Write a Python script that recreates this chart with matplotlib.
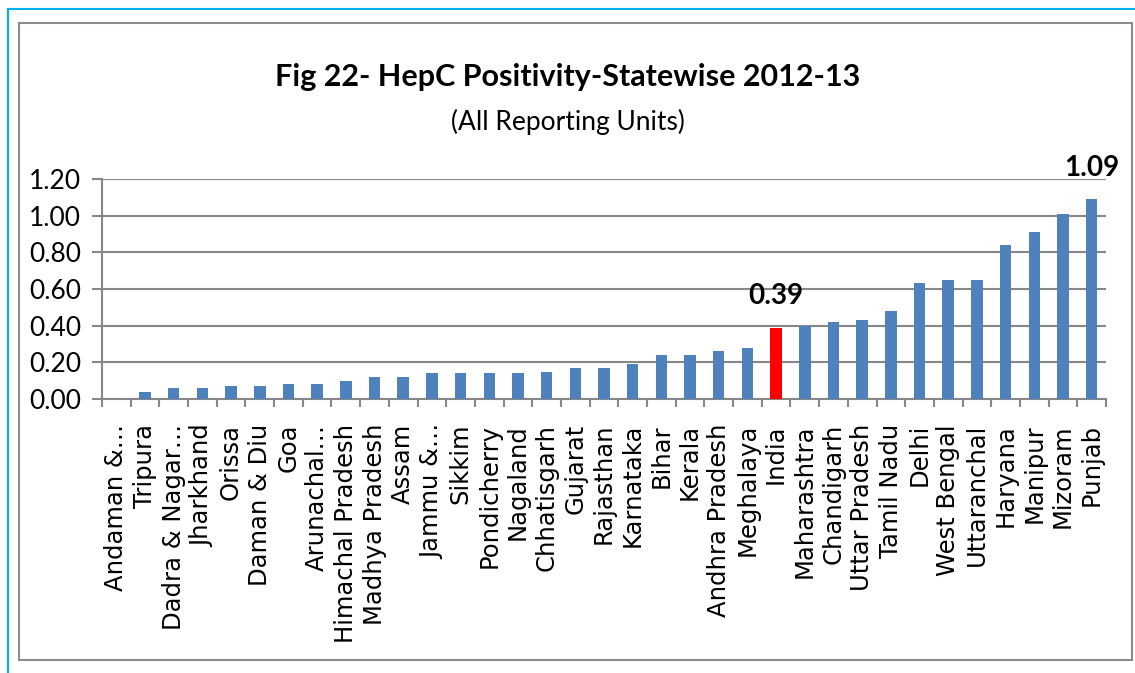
import matplotlib.pyplot as plt
from matplotlib.lines import Line2D
from matplotlib.patches import Rectangle

states = [
    'Andaman &…', 'Tripura', 'Dadra & Nagar…', 'Jharkhand', 'Orissa',
    'Daman & Diu', 'Goa', 'Arunachal…', 'Himachal Pradesh', 'Madhya Pradesh',
    'Assam', 'Jammu &…', 'Sikkim', 'Pondicherry', 'Nagaland',
    'Chhatisgarh', 'Gujarat', 'Rajasthan', 'Karnataka', 'Bihar',
    'Kerala', 'Andhra Pradesh', 'Meghalaya', 'India', 'Maharashtra',
    'Chandigarh', 'Uttar Pradesh', 'Tamil Nadu', 'Delhi', 'West Bengal',
    'Uttaranchal', 'Haryana', 'Manipur', 'Mizoram', 'Punjab'
]

positivity = [
    0.00, 0.04, 0.06, 0.06, 0.07,
    0.07, 0.08, 0.08, 0.10, 0.12,
    0.12, 0.14, 0.14, 0.14, 0.14,
    0.15, 0.17, 0.17, 0.19, 0.24,
    0.24, 0.26, 0.28, 0.39, 0.40,
    0.42, 0.43, 0.48, 0.63, 0.65,
    0.65, 0.84, 0.91, 1.01, 1.09
]

yticks = [0.0, 0.2, 0.4, 0.6, 0.8, 1.0, 1.2]
labelled = {'India': '0.39', 'Punjab': '1.09'}

narrow = ['Lato', 'DejaVu Sans']
W, H = 1135, 673

fig = plt.figure(figsize=(W / 100, H / 100), dpi=100)

# outer cyan edge and grey chart frame
fig.add_artist(Line2D([8 / W, 8 / W], [0, 1 - 9 / H], color='#00B0F0', lw=1.5))
fig.add_artist(Line2D([8 / W, 1], [1 - 9 / H, 1 - 9 / H], color='#00B0F0', lw=1.5))
fig.add_artist(Rectangle((19 / W, 1 - 660 / H), (1132 - 19) / W, (660 - 23) / H,
                         fill=False, edgecolor='#8C8C8C', lw=1.5))

ax = fig.add_axes([102 / W, 1 - 399 / H, (1106 - 102) / W, 220 / H])

colors = ['#FF0000' if s == 'India' else '#4F81BD' for s in states]
x = range(len(states))
ax.bar(x, positivity, width=0.4, color=colors, zorder=3)

ax.set_xlim(-0.5, len(states) - 0.5)
ax.set_ylim(0, 1.2)
ax.set_yticks(yticks)
ax.set_yticklabels(['%.2f' % t for t in yticks], family=narrow, fontsize=19)
ax.yaxis.grid(True, color='#878787', lw=1.5, zorder=0)

ax.set_xticks(list(x))
ax.set_xticklabels(states, rotation=90, fontsize=17.5, family='DejaVu Sans')
ax.set_xticks([i + 0.5 for i in range(-1, len(states))], minor=True)
ax.tick_params(axis='x', which='major', length=0, pad=18)
ax.tick_params(axis='x', which='minor', length=6, color='#878787', width=1.5)
ax.tick_params(axis='y', length=7, color='#878787', width=1.5, pad=8)

for side in ['top', 'right']:
    ax.spines[side].set_visible(False)
for side in ['left', 'bottom']:
    ax.spines[side].set_color('#878787')
    ax.spines[side].set_linewidth(1.5)

for i, s in enumerate(states):
    if s in labelled:
        ax.annotate(labelled[s], (i, positivity[i]), xytext=(0, 13),
                    textcoords='offset points', ha='center', va='bottom',
                    fontsize=20, fontweight='bold', family=narrow)

fig.text(0.5, 1 - 77 / H, 'Fig 22- HepC Positivity-Statewise 2012-13',
         ha='center', va='center', fontsize=22, fontweight='bold', family=narrow)
fig.text(0.5, 1 - 122 / H, '(All Reporting Units)',
         ha='center', va='center', fontsize=19, family=narrow)

plt.savefig('out.png', dpi=100)
